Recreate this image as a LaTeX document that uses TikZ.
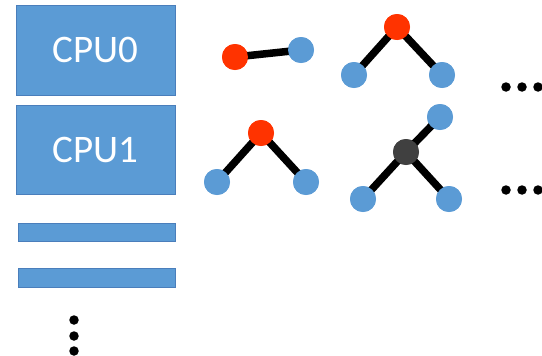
\documentclass[tikz,border=0pt]{standalone}
\usepackage{fontspec}
\setmainfont{Carlito}
\definecolor{cpublue}{HTML}{5B9BD5}
\definecolor{cpuedge}{HTML}{4A7EBB}
\definecolor{hotred}{HTML}{FF3300}
\definecolor{darknode}{HTML}{404040}
\begin{document}
\begin{tikzpicture}[x=1pt,y=-1pt,
  cpubox/.style={draw=cpuedge,line width=1pt,fill=cpublue,text=white,font=\fontsize{39}{40}\selectfont},
  vtx/.style={circle,inner sep=0pt,minimum size=26pt},
  bluev/.style={vtx,fill=cpublue},
  redv/.style={vtx,fill=hotred},
  darkv/.style={vtx,fill=darknode},
  edge/.style={line width=7.5pt},
  dotc/.style={circle,fill=black,inner sep=0pt,minimum size=9.5pt}]
\useasboundingbox (0,0) rectangle (542,356);
% CPU boxes
\draw[cpubox] (16,5) rectangle node (c0) {CPU0} (175,95);
\draw[cpubox] (16,105) rectangle node (c1) {CPU1} (175,194);
\draw[cpubox] (18,223) rectangle (175,241);
\draw[cpubox] (18,268) rectangle (175,287);
% vertical dots
\node[dotc] (vd1) at (74,320) {};
\node[dotc] (vd2) at (74,336) {};
\node[dotc] (vd3) at (74,351) {};
% graph 1
\node[redv] (a1) at (235,57) {};
\node[bluev] (a2) at (301,50) {};
% graph 2
\node[redv] (b0) at (397,27) {};
\node[bluev] (b1) at (354,75) {};
\node[bluev] (b2) at (442,75) {};
% graph 3
\node[redv] (d0) at (261,133) {};
\node[bluev] (d1) at (217,182) {};
\node[bluev] (d2) at (306,182) {};
% graph 4
\node[darkv] (e0) at (406,152) {};
\node[bluev] (e1) at (440,117) {};
\node[bluev] (e2) at (363,199) {};
\node[bluev] (e3) at (449,199) {};
% edges
\draw[edge] (a1.center) -- (a2.center);
\draw[edge] (b0.center) -- (b1.center) (b0.center) -- (b2.center);
\draw[edge] (d0.center) -- (d1.center) (d0.center) -- (d2.center);
\draw[edge] (e0.center) -- (e1.center) (e0.center) -- (e2.center) (e0.center) -- (e3.center);
% vertices on top of the edges
\foreach \n/\c in {a1/hotred,a2/cpublue,b0/hotred,b1/cpublue,b2/cpublue,d0/hotred,d1/cpublue,d2/cpublue,e0/darknode,e1/cpublue,e2/cpublue,e3/cpublue}
  \fill[\c] (\n.center) circle (13pt);
% horizontal dots
\node[dotc] (h1) at (506,87) {};
\node[dotc] (h2) at (522,87) {};
\node[dotc] (h3) at (538,87) {};
\node[dotc] (k1) at (506,190) {};
\node[dotc] (k2) at (522,190) {};
\node[dotc] (k3) at (538,190) {};
\end{tikzpicture}
\end{document}
